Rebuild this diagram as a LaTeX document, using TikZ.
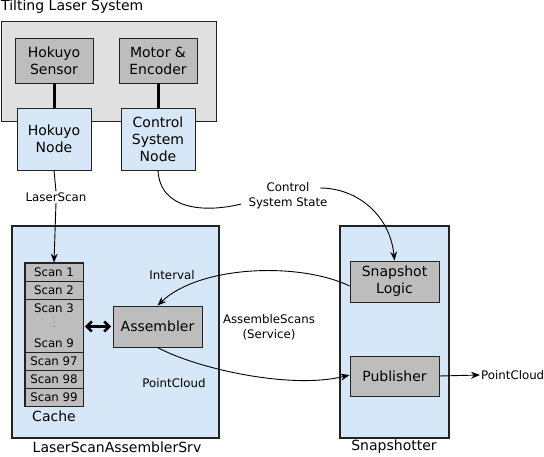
\documentclass[tikz,border=0pt]{standalone}
\usepackage{fontspec}
\setmainfont{DejaVu Sans}
\usetikzlibrary{arrows.meta}
\definecolor{outergray}{HTML}{E0E0E0}
\definecolor{boxgray}{HTML}{BDBDBD}
\definecolor{lightblue}{HTML}{D6E7F8}
\definecolor{edge}{HTML}{222222}
\tikzset{
  big/.style={font=\fontsize{14}{17}\selectfont},
  small/.style={font=\fontsize{11.8}{15}\selectfont},
  graybox/.style={draw=edge, fill=boxgray, line width=0.9pt, big, align=center, inner sep=0pt},
  bluebox/.style={draw=edge, fill=lightblue, line width=0.9pt, big, align=center, inner sep=0pt},
  cell/.style={draw=edge, fill=boxgray, line width=0.9pt, small, minimum width=58pt, inner sep=0pt, anchor=center},
  lbl/.style={small, align=center, inner sep=1pt},
  conn/.style={line width=0.9pt, draw=black},
  arr/.style={conn, -{Stealth[length=9pt,width=7pt,inset=3pt]}},
  thickline/.style={line width=3pt, draw=black},
}
\begin{document}
\begin{tikzpicture}[x=1pt,y=-1pt]
\useasboundingbox (0,0) rectangle (544,457);
% Tilting laser system
\node[big, anchor=west, inner sep=1pt] (title) at (0,6.5) {Tilting Laser System};
\node[draw=edge, fill=outergray, line width=0.9pt, minimum width=215pt, minimum height=100pt, inner sep=0pt] (tls) at (108.5,71) {};
\node[graybox, minimum width=78pt, minimum height=45pt] (hs) at (54,60.5) {Hokuyo\\Sensor};
\node[graybox, minimum width=78pt, minimum height=45pt] (me) at (158,60.5) {Motor \&\\Encoder};
\node[bluebox, minimum width=74pt, minimum height=62pt] (hn) at (54,139) {Hokuyo\\Node};
\node[bluebox, minimum width=74pt, minimum height=62pt] (csn) at (158,139) {Control\\System\\Node};
\draw[thickline] (hs.south) -- (hn.north);
\draw[thickline] (me.south) -- (csn.north);
% LaserScanAssemblerSrv
\node[bluebox, minimum width=207pt, minimum height=212pt, line width=1.3pt] (srv) at (115.5,332) {};
\node[big, inner sep=1pt] (srvl) at (117,447) {LaserScanAssemblerSrv};
\node[cell, minimum height=18pt] (s1) at (54,272) {Scan 1};
\node[cell, minimum height=18pt] (s2) at (54,290) {Scan 2};
\node[cell, minimum height=53pt] (s39) at (54,325.5) {};
\node[small, inner sep=0pt] (s3) at (54,308) {Scan 3};
\node[small, inner sep=0pt] (s9) at (54,343) {Scan 9};
\foreach \yy in {317.5,322,326.5} \fill[black!70] (54,\yy) circle (0.5pt);
\node[cell, minimum height=18pt] (s97) at (54,361) {Scan 97};
\node[cell, minimum height=18pt] (s98) at (54,379) {Scan 98};
\node[cell, minimum height=18pt] (s99) at (54,397) {Scan 99};
\draw[edge, line width=1.5pt] (s1.north west) rectangle (s99.south east);
\node[big, inner sep=1pt] (cache) at (54,416) {Cache};
\node[graybox, minimum width=89pt, minimum height=41pt] (asm) at (157.5,326.5) {Assembler};
\draw[line width=2.6pt, {Straight Barb[length=5pt,width=10pt]}-{Straight Barb[length=5pt,width=10pt]}] (s39.east |- asm.west) ++(1.5,0) -- ([xshift=-1.5pt]asm.west);
\node[lbl] (interval) at (172,275) {Interval};
\node[lbl] (pcl) at (174,383) {PointCloud};
% Snapshotter
\node[bluebox, minimum width=109pt, minimum height=212pt, line width=1.3pt] (snap) at (394.5,332) {};
\node[big, inner sep=1pt] (snapl) at (394,447) {Snapshotter};
\node[graybox, minimum width=89pt, minimum height=41pt] (sl) at (394.5,281.5) {Snapshot\\Logic};
\node[graybox, minimum width=89pt, minimum height=40pt] (pub) at (394.5,376) {Publisher};
\node[lbl, anchor=west] (pco) at (480,375) {PointCloud};
\draw[arr] (pub.east) -- (pco.west);
% labels
\node[lbl] (laserscan) at (56,197) {LaserScan};
\node[lbl] (css) at (288,196) {Control\\System State};
\node[lbl] (asv) at (269,327) {AssembleScans\\(Service)};
\draw[conn] (hn.south) -- (laserscan.north);
\draw[arr] (laserscan.south) -- (s1.north);
\coordinate (cin) at (241,204);
\coordinate (cout) at (320,188);
\draw[conn] (csn.south) .. controls (160,210) and (205,213) .. (cin);
\draw[arr] (cout) .. controls (357,188) and (390,215) .. (sl.north);
\draw[arr] ([yshift=-4.5pt]sl.west) .. controls (300,262) and (200,265) .. ([xshift=0pt]asm.north);
\draw[arr] (asm.south) .. controls (195,368) and (290,390) .. ([yshift=1pt]pub.west);
\end{tikzpicture}
\end{document}
